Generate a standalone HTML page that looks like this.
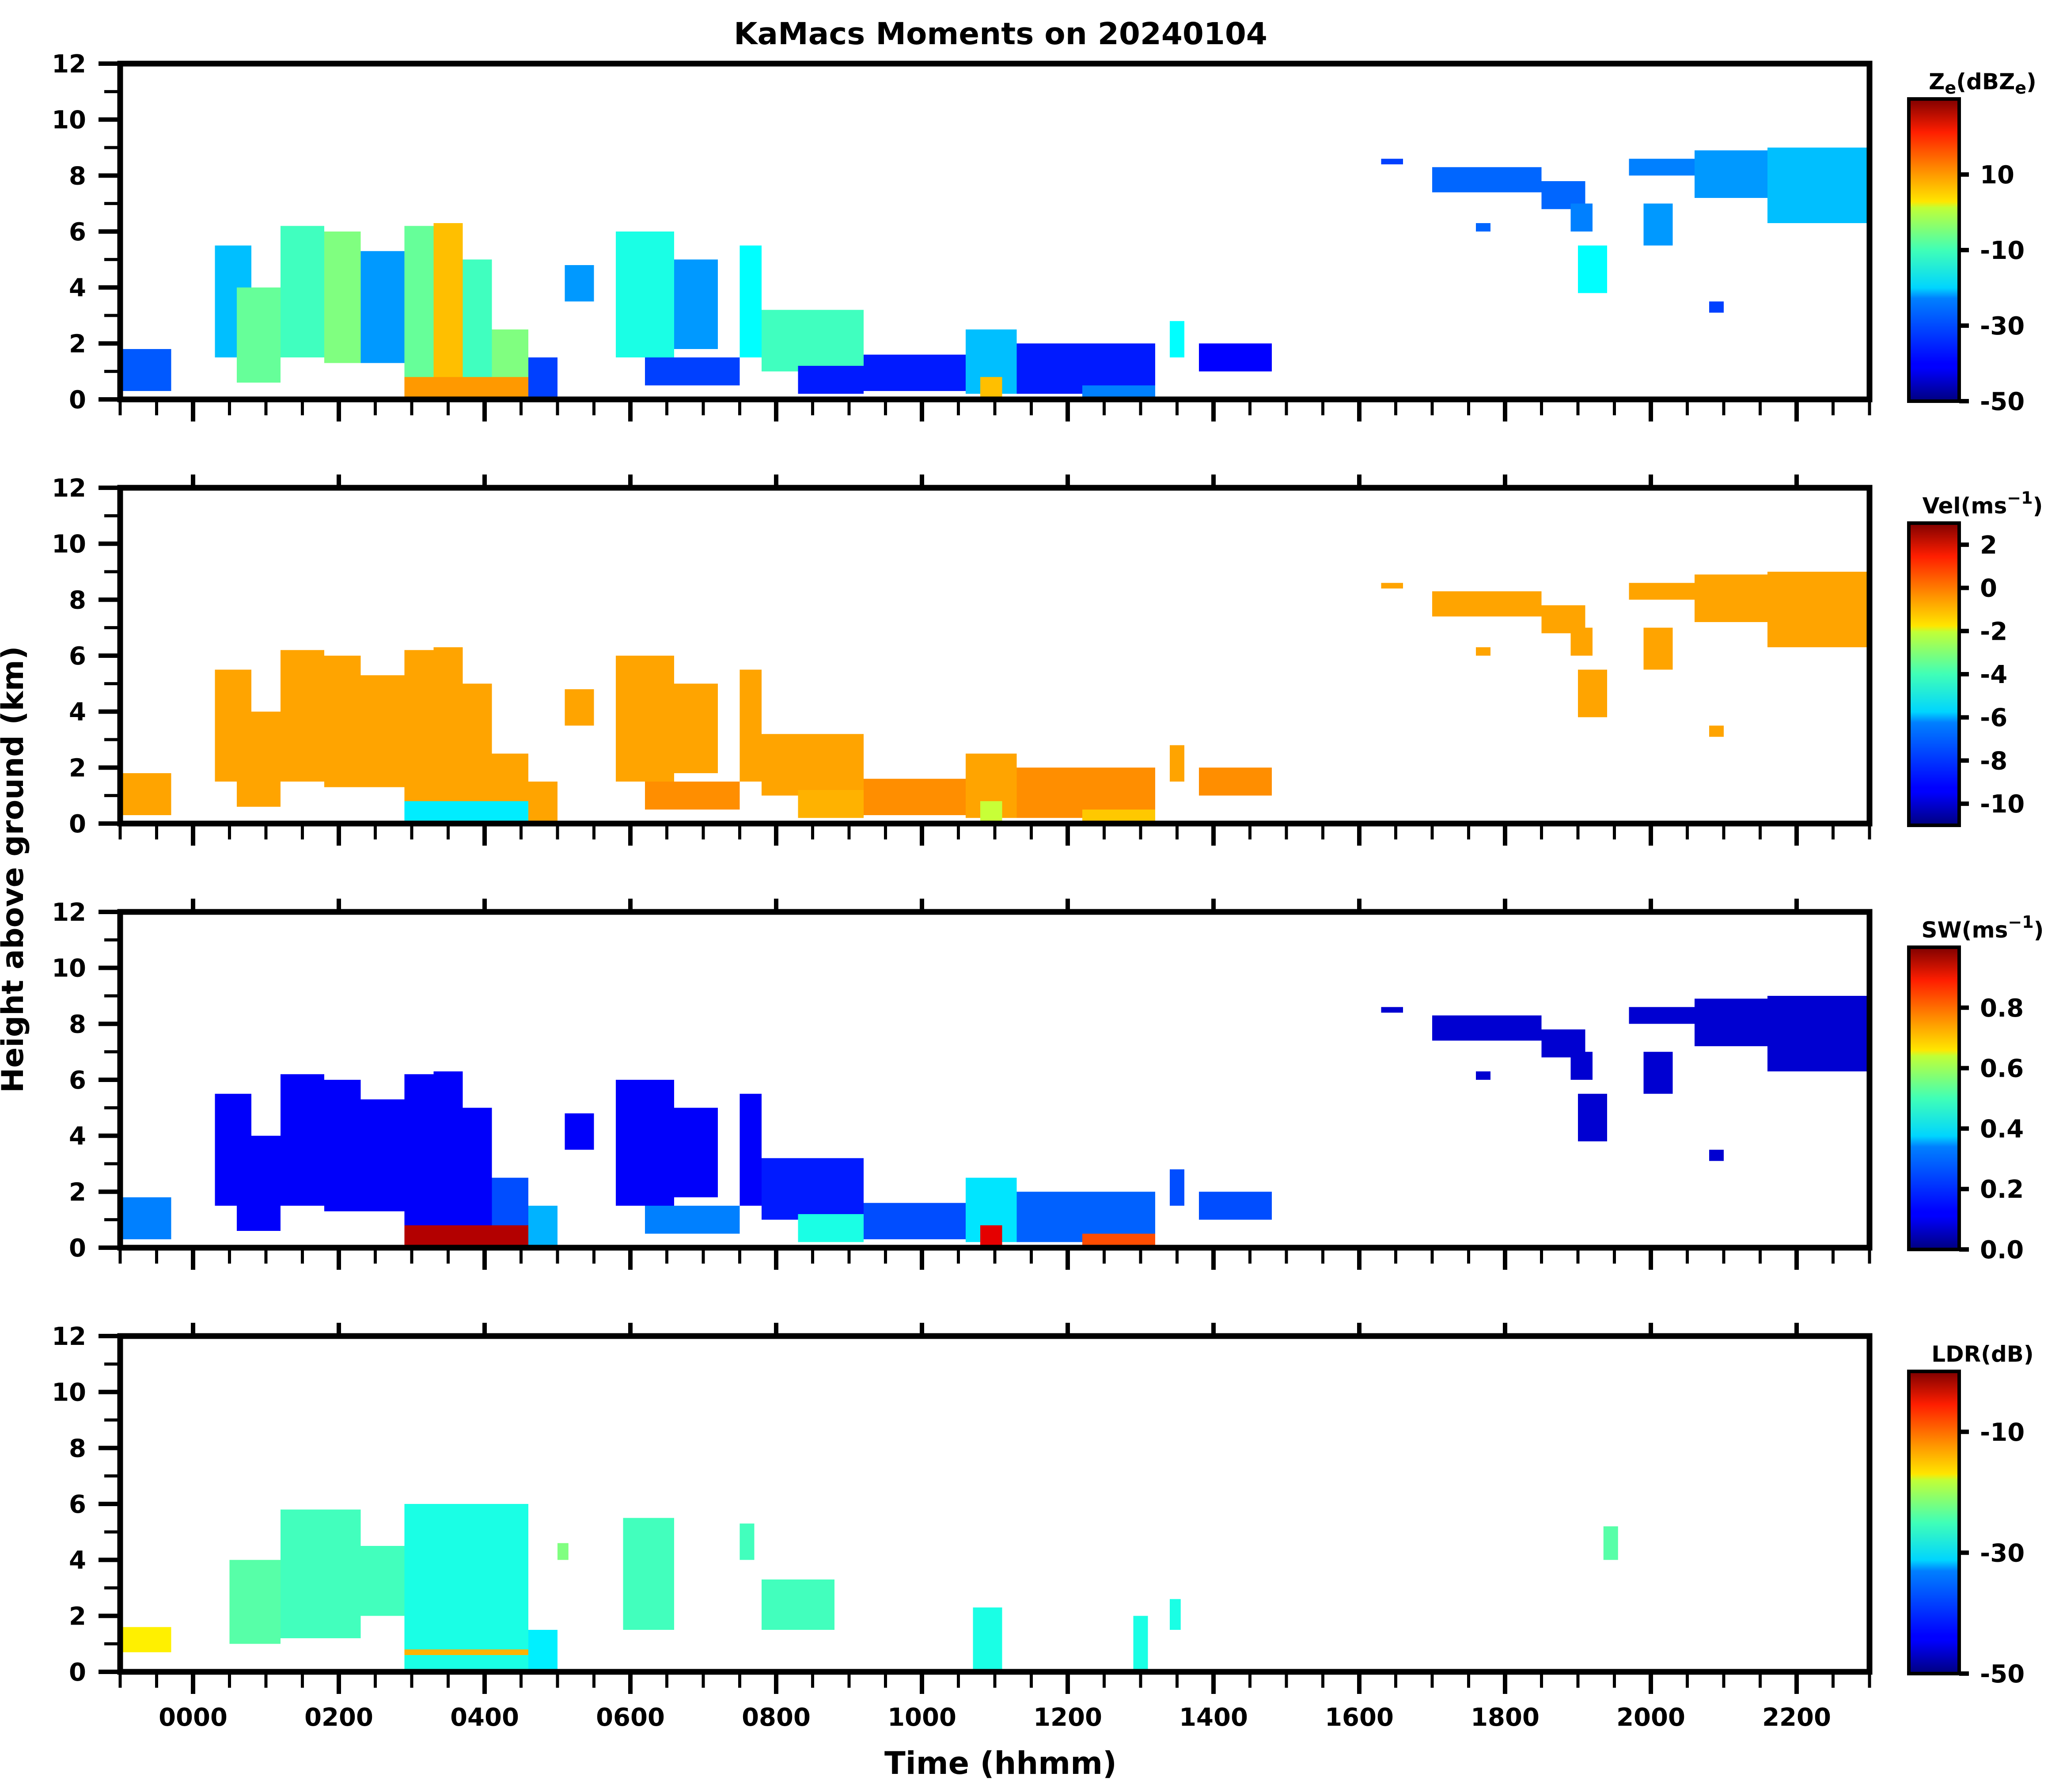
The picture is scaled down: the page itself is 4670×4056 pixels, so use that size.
<!DOCTYPE html>
<html><head><meta charset="utf-8"><style>
html,body{margin:0;padding:0;background:#fff}
svg{display:block;font-family:"DejaVu Sans","Liberation Sans",sans-serif;font-weight:bold}
</style></head><body>
<svg id="fig" width="4670" height="4056" viewBox="0 0 4670 4056" xmlns="http://www.w3.org/2000/svg">
<defs>
<linearGradient id="jet" x1="0" y1="1" x2="0" y2="0">
<stop offset="0" stop-color="#00007f"/><stop offset="0.11" stop-color="#0000ff"/><stop offset="0.125" stop-color="#0000ff"/>
<stop offset="0.34" stop-color="#0080ff"/><stop offset="0.375" stop-color="#00d5ff"/><stop offset="0.5" stop-color="#40ffb7"/>
<stop offset="0.64" stop-color="#c1ff36"/><stop offset="0.66" stop-color="#ffe600"/><stop offset="0.75" stop-color="#ff9a00"/>
<stop offset="0.89" stop-color="#ff1e00"/><stop offset="1" stop-color="#7f0000"/>
</linearGradient>
</defs>
<text x="2265" y="100" font-size="69" text-anchor="middle">KaMacs Moments on 20240104</text>
<text transform="translate(52,1968) rotate(-90)" font-size="68" text-anchor="middle">Height above ground (km)</text>
<text x="2265" y="4015" font-size="70" text-anchor="middle">Time (hhmm)</text>
<g id="plots"></g>
</svg>
<script>
// geometry of cloud cells: [t0 (h), t1 (h), base (km), top (km)]
const cellT0 =   [-1.0,0.3,0.6,1.2,1.8,2.3,2.9,3.3,3.7,4.1,4.6,2.9,5.1,5.8,6.6,6.2,7.5,7.8,8.3,9.2,10.6,10.8,11.3,12.2,13.4,13.8,16.3,17.0,18.5,19.0,19.7,19.9,20.6,21.6,20.8,17.6,18.9];
const cellT1 =   [-0.3,0.8,1.2,1.8,2.3,2.9,3.3,3.7,4.1,4.6,5.0,4.6,5.5,6.6,7.2,7.5,7.8,9.2,9.2,10.8,11.3,11.1,13.2,13.2,13.6,14.8,16.6,18.5,19.1,19.4,20.6,20.3,21.6,23.0,21.0,17.8,19.2];
const cellBase = [0.3,1.5,0.6,1.5,1.3,1.3,0.0,0.0,0.0,0.0,0.0,0.0,3.5,1.5,1.8,0.5,1.5,1.0,0.2,0.3,0.2,0.0,0.2,0.0,1.5,1.0,8.4,7.4,6.8,3.8,8.0,5.5,7.2,6.3,3.1,6.0,6.0];
const cellTop =  [1.8,5.5,4.0,6.2,6.0,5.3,6.2,6.3,5.0,2.5,1.5,0.8,4.8,6.0,5.0,1.5,5.5,3.2,1.2,1.6,2.5,0.8,2.0,0.5,2.8,2.0,8.6,8.3,7.8,5.5,8.6,7.0,8.9,9.0,3.5,6.3,7.0];
// moment values per cell
const zeVals =  [-33,-25,-12,-15,-10,-28,-12,5,-15,-10,-35,8,-28,-18,-28,-35,-20,-15,-38,-38,-25,5,-38,-30,-20,-40,-35,-32,-32,-20,-30,-28,-28,-25,-35,-32,-30];
const velVals = [-1,-1,-1,-1,-1,-1,-1,-1,-1,-1,-1,-6,-1,-1,-1,-0.7,-1,-1,-1.2,-0.7,-1,-3,-0.7,-1.5,-1,-0.7,-1,-1,-1,-1,-1,-1,-1,-1,-1,-1,-1];
const swVals =  [0.25,0.12,0.12,0.12,0.12,0.12,0.12,0.12,0.12,0.2,0.3,0.95,0.12,0.12,0.12,0.25,0.12,0.15,0.4,0.2,0.35,0.9,0.22,0.8,0.2,0.2,0.08,0.08,0.08,0.08,0.08,0.08,0.08,0.08,0.08,0.08,0.08];
// LDR cells
const ldrT0 =   [-1.0,0.5,1.2,2.3,2.9,2.9,4.6,5.0,5.9,7.5,7.8,13.4,19.35,10.7,12.9];
const ldrT1 =   [-0.3,1.2,2.3,2.9,4.6,4.6,5.0,5.15,6.6,7.7,8.8,13.55,19.55,11.1,13.1];
const ldrBase = [0.7,1.0,1.2,2.0,0.0,0.6,0.0,4.0,1.5,4.0,1.5,1.5,4.0,0.0,0.0];
const ldrTop =  [1.6,4.0,5.8,4.5,6.0,0.8,1.5,4.6,5.5,5.3,3.3,2.6,5.2,2.3,2.0];
const ldrVals = [-18,-27,-28,-28,-30,-15,-32,-25,-28,-28,-28,-30,-27,-30,-30];
// axis tick labels
const yTicks = [0,2,4,6,8,10,12];
const xMajor = [0,2,4,6,8,10,12,14,16,18,20,22];
const xMajorLabels = ["0000","0200","0400","0600","0800","1000","1200","1400","1600","1800","2000","2200"];
const cbTitles = ["Z<tspan font-size='38' dy='10'>e</tspan><tspan dy='-10'>(dBZ</tspan><tspan font-size='38' dy='10'>e</tspan><tspan dy='-10'>)</tspan>","Vel(ms<tspan font-size='38' dy='-22'>−1</tspan><tspan dy='22'>)</tspan>","SW(ms<tspan font-size='38' dy='-22'>−1</tspan><tspan dy='22'>)</tspan>","LDR(dB)"];
const cbMin = [-50,-11,0,-50];
const cbMax = [30,3,1,0];
const cbTicks = [[-50,-30,-10,10],[-10,-8,-6,-4,-2,0,2],[0,0.2,0.4,0.6,0.8],[-50,-30,-10]];
const cbTickLabels = [["-50","-30","-10","10"],["-10","-8","-6","-4","-2","0","2"],["0.0","0.2","0.4","0.6","0.8"],["-50","-30","-10"]];
const panelNames = ["reflectivity","velocity","spectrum-width","ldr"];

const NS="http://www.w3.org/2000/svg";
const X0=272, PXH=165, PANEL_H=760, GAP=960, TOP0=144;
function xs(t){return X0+(t+1)*PXH;}
function ys(h,p){return TOP0+p*GAP+PANEL_H - h*PANEL_H/12;}
function jet(v){
  v=Math.max(0,Math.min(1,v));
  const r=Math.max(0,Math.min(1,1.5-Math.abs(4*v-3)));
  const g=Math.max(0,Math.min(1,1.5-Math.abs(4*v-2)));
  const b=Math.max(0,Math.min(1,1.5-Math.abs(4*v-1)));
  return `rgb(${Math.round(r*255)},${Math.round(g*255)},${Math.round(b*255)})`;
}
function mk(tag,attrs,parent){const e=document.createElementNS(NS,tag);for(const k in attrs)e.setAttribute(k,attrs[k]);parent.appendChild(e);return e;}
const root=document.getElementById('plots');

for(let p=0;p<4;p++){
  const g=mk('g',{},root);
  
  
  const top=TOP0+p*GAP, bot=top+PANEL_H;
  const vmin=cbMin[p], vmax=cbMax[p];
  if(p<3){
    const vals=[zeVals,velVals,swVals][p];
    for(let i=0;i<cellT0.length;i++){
      const r=mk('rect',{x:xs(cellT0[i]),y:ys(cellTop[i],p),width:xs(cellT1[i])-xs(cellT0[i]),height:ys(cellBase[i],p)-ys(cellTop[i],p),fill:jet((vals[i]-vmin)/(vmax-vmin))},g);
      
      
    }
  } else {
    for(let i=0;i<ldrT0.length;i++){
      const r=mk('rect',{x:xs(ldrT0[i]),y:ys(ldrTop[i],p),width:xs(ldrT1[i])-xs(ldrT0[i]),height:ys(ldrBase[i],p)-ys(ldrTop[i],p),fill:jet((ldrVals[i]-vmin)/(vmax-vmin))},g);
      
      
    }
  }
  const fr=mk('rect',{x:X0,y:top,width:xs(23)-X0,height:PANEL_H,fill:'none',stroke:'#000','stroke-width':13},g);
  
  
  for(let h=0;h<=12;h++){
    const y=ys(h,p), major=h%2===0;
    mk('line',{x1:major?223:236,x2:X0,y1:y,y2:y,stroke:'#000','stroke-width':major?10:7},g);
  }
  for(const h of yTicks){
    const t=mk('text',{x:195,y:ys(h,p)+20,'font-size':56,'text-anchor':'end'},g);
    t.textContent=String(h);
    
    
  }
  for(let k=0;k<=48;k++){
    const t=-1+k*0.5, x=xs(t);
    const major=Number.isInteger(t)&&t%2===0&&t>=0;
    mk('line',{x1:x,x2:x,y1:bot,y2:bot+(major?50:36),stroke:'#000','stroke-width':major?10:7},g);
    if(p>0&&major) mk('line',{x1:x,x2:x,y1:top-30,y2:top,stroke:'#000','stroke-width':10},g);
  }
  if(p===3){
    for(let i=0;i<xMajor.length;i++){
      const t=mk('text',{x:xs(xMajor[i]),y:bot+122,'font-size':56,'text-anchor':'middle'},g);
      t.textContent=xMajorLabels[i];
      
      
    }
  }
  const cbT=224+p*GAP, cbB=908+p*GAP;
  const cb=mk('rect',{x:4321,y:cbT,width:114,height:cbB-cbT,fill:'url(#jet)',stroke:'#000','stroke-width':8},g);
  
  
  for(let i=0;i<cbTicks[p].length;i++){
    const y=cbB-(cbTicks[p][i]-vmin)/(vmax-vmin)*(cbB-cbT);
    mk('line',{x1:4435,x2:4457,y1:y,y2:y,stroke:'#000','stroke-width':10},g);
    const t=mk('text',{x:4482,y:y+20,'font-size':56},g);
    t.textContent=cbTickLabels[p][i];
    
    
  }
  const ct=mk('text',{x:4488,y:cbT-22,'font-size':50,'text-anchor':'middle'},g);
  ct.innerHTML=cbTitles[p];
  
  
}
</script>
</body></html>
